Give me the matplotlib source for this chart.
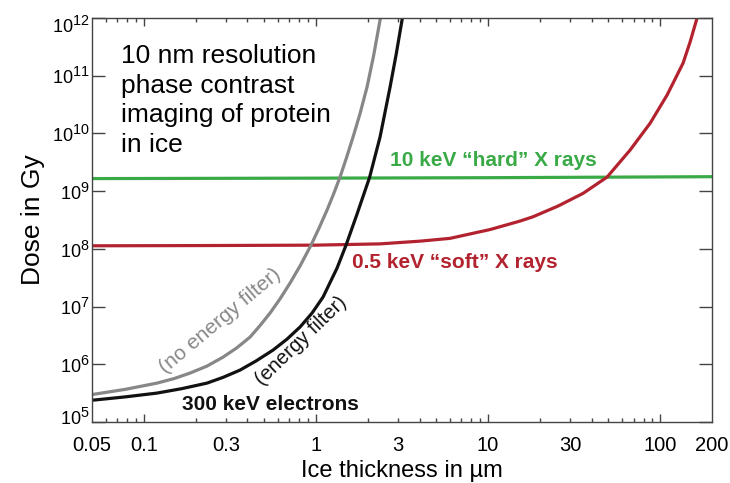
import matplotlib
matplotlib.use('Agg')
import matplotlib.pyplot as plt
import matplotlib._mathtext as _mt
from matplotlib.ticker import FixedLocator, NullLocator
from matplotlib.transforms import ScaledTranslation

plt.rcParams['font.family'] = ['Liberation Sans', 'DejaVu Sans']
plt.rcParams['mathtext.fontset'] = 'custom'
plt.rcParams['mathtext.rm'] = 'Liberation Sans'
plt.rcParams['mathtext.it'] = 'Liberation Sans:italic'
plt.rcParams['mathtext.bf'] = 'Liberation Sans:bold'
_mt.SHRINK_FACTOR = 0.8  # larger superscripts, as in the reference

# ---- data ----
thick_nofilter = [0.05, 0.0777, 0.1193, 0.1498, 0.1855, 0.2329, 0.2885, 0.3456, 0.4142,
                  0.4734, 0.5411, 0.6186, 0.7071, 0.8138, 0.9365, 1.0424, 1.160, 1.266,
                  1.380, 1.506, 1.643, 1.804, 1.981, 2.161, 2.358, 2.42]
dose_nofilter = [2.99e5, 3.67e5, 4.72e5, 5.65e5, 7.04e5, 9.31e5, 1.33e6, 1.91e6, 2.96e6,
                 4.69e6, 7.71e6, 1.36e7, 2.55e7, 5.24e7, 1.16e8, 2.29e8, 4.70e8, 8.91e8,
                 1.75e9, 3.82e9, 8.67e9, 2.21e10, 6.37e10, 2.19e11, 9.24e11, 1.49e12]

thick_filter = [0.05, 0.0777, 0.1193, 0.1667, 0.2329, 0.2885, 0.3622, 0.4485, 0.5630,
                0.6793, 0.8083, 0.9491, 1.0995, 1.3265, 1.4958, 1.733, 2.048, 2.358,
                2.696, 2.920, 3.164, 3.25]
dose_filter = [2.38e5, 2.72e5, 3.17e5, 3.79e5, 4.72e5, 5.93e5, 7.93e5, 1.14e6, 1.76e6,
               2.73e6, 4.42e6, 7.71e6, 1.46e7, 4.65e7, 1.16e8, 4.01e8, 1.72e9, 8.67e9,
               6.37e10, 2.28e11, 9.24e11, 1.49e12]

thick_soft = [0.05, 0.212, 1.0, 2.358, 4.03, 6.01, 10.27, 15.34, 18.26, 25.51, 35.65,
              49.14, 66.86, 87.37, 109.7, 135.9, 149.2, 163.8, 170.5]
dose_soft = [1.13e8, 1.14e8, 1.16e8, 1.22e8, 1.36e8, 1.52e8, 2.16e8, 3.03e8, 3.60e8,
             5.52e8, 9.16e8, 1.75e9, 5.15e9, 1.50e10, 4.63e10, 1.66e11, 3.84e11,
             1.0e12, 1.61e12]

thick_hard = [0.05, 1, 10, 200]
dose_hard = [1.65e9, 1.68e9, 1.71e9, 1.78e9]

xtick_vals = [0.05, 0.1, 0.3, 1, 3, 10, 30, 100, 200]
xtick_labels = ['0.05', '0.1', '0.3', '1', '3', '10', '30', '100', '200']
ytick_exps = [5, 6, 7, 8, 9, 10, 11, 12]

# ---- style ----
RED = '#b3232f'
GREEN = '#3aaa47'
GRAY = '#878787'
BLACK = '#111111'
AXC = '#444444'

fig = plt.figure(figsize=(7.30, 4.83), dpi=100)
ax = fig.add_axes([92/730, 61/483, 620/730, 404/483])

lw = 2.3
ax.plot(thick_hard, dose_hard, color=GREEN, lw=lw, solid_capstyle='butt')
ax.plot(thick_soft, dose_soft, color=RED, lw=lw, solid_capstyle='butt',
        solid_joinstyle='round')
ax.plot(thick_nofilter, dose_nofilter, color=GRAY, lw=lw, solid_capstyle='butt',
        solid_joinstyle='round')
ax.plot(thick_filter, dose_filter, color=BLACK, lw=lw, solid_capstyle='butt',
        solid_joinstyle='round')

ax.set_xscale('log')
ax.set_yscale('log')
ax.set_xlim(0.05, 200)
ax.set_ylim(1e5, 1e12)

for s in ax.spines.values():
    s.set_color(AXC)
    s.set_linewidth(1.0)

# x ticks
ax.xaxis.set_major_locator(FixedLocator(xtick_vals))
ax.set_xticklabels(xtick_labels)
minor = []
for dec in [0.01, 0.1, 1, 10, 100]:
    for m in range(2, 10):
        v = round(m * dec, 6)
        if 0.05 < v < 200 and v not in xtick_vals:
            minor.append(v)
ax.xaxis.set_minor_locator(FixedLocator(minor))

# y ticks
ax.yaxis.set_major_locator(FixedLocator([10.0**e for e in ytick_exps]))
ax.set_yticklabels([r'$10^{%d}$' % e for e in ytick_exps])
ax.yaxis.set_minor_locator(NullLocator())

ax.tick_params(axis='both', which='both', direction='in', top=True, right=True,
               color=AXC, width=1.0, labelcolor='black')
ax.tick_params(axis='x', which='major', length=5.8, labelsize=14.5, pad=10)
ax.tick_params(axis='x', which='minor', length=2.9)
ax.tick_params(axis='y', which='major', length=9.4, labelsize=13, pad=2)

ax.set_xlabel('Ice thickness in µm', fontsize=17, labelpad=3.5)
ax.set_ylabel('Dose in Gy', fontsize=19, labelpad=5)

for t, v in zip(ax.xaxis.get_major_ticks(), xtick_vals):
    if v in (0.1, 1, 10, 100):
        L = 5.8
    elif v in (0.05, 200):
        L = 0
    else:
        L = 2.9
    t.tick1line.set_markersize(L)
    t.tick2line.set_markersize(L)

# end labels on the y axis are nudged inward, as in the reference
yt = ax.yaxis.get_major_ticks()
yt[0].label1.set_transform(yt[0].label1.get_transform()
                           + ScaledTranslation(0, 0.06, fig.dpi_scale_trans))
yt[-1].label1.set_transform(yt[-1].label1.get_transform()
                            + ScaledTranslation(0, -0.06, fig.dpi_scale_trans))

# annotations
ax.text(0.047, 0.935, '10 nm resolution\nphase contrast\nimaging of protein\nin ice',
        transform=ax.transAxes, fontsize=19, va='top', ha='left', linespacing=1.29)
ax.text(0.481, 0.634, '10 keV \u201chard\u201d X rays', transform=ax.transAxes,
        fontsize=15, fontweight='bold', color=GREEN, va='baseline', ha='left')
ax.text(0.419, 0.381, '0.5 keV \u201csoft\u201d X rays', transform=ax.transAxes,
        fontsize=15, fontweight='bold', color=RED, va='baseline', ha='left')
ax.text(0.145, 0.030, '300 keV electrons', transform=ax.transAxes,
        fontsize=15, fontweight='bold', color=BLACK, va='baseline', ha='left')
ax.text(0.206, 0.250, '(no energy filter)', transform=ax.transAxes,
        fontsize=15, color=GRAY, rotation=40, rotation_mode='anchor',
        ha='center', va='center')
ax.text(0.337, 0.200, '(energy filter)', transform=ax.transAxes,
        fontsize=14.5, color=BLACK, rotation=44, rotation_mode='anchor',
        ha='center', va='center')

fig.savefig('out.png', dpi=100)
